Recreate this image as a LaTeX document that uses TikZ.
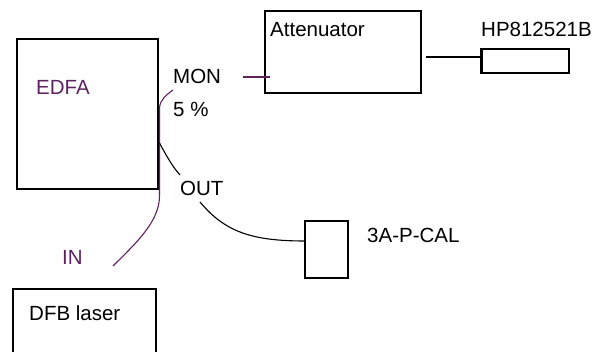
\documentclass[tikz,border=0pt]{standalone}
\usepackage{fontspec}
\setmainfont{Liberation Sans}
\definecolor{fiberpurple}{RGB}{96,34,96}
\begin{document}
\begin{tikzpicture}[x=1pt,y=-1pt,
  box/.style={draw=black,line width=1.2pt,minimum width=#1,inner sep=0pt},
  lbl/.style={anchor=west,inner sep=0pt,font=\fontsize{20.5}{24}\selectfont},
  fiber/.style={line width=1.1pt}]
\useasboundingbox (0,0) rectangle (595,352);
\clip (0,0) rectangle (595,352);
\fill[white] (0,0) rectangle (595,352);
% boxes
\node[box=141pt,minimum height=150pt] (edfa) at (87.5,114) {};
\node[box=156pt,minimum height=82pt] (att) at (343,52) {};
\node[box=87pt,minimum height=24pt] (hp) at (525.5,61) {};
\node[box=43pt,minimum height=57pt] (cal) at (326.5,249.5) {};
\node[box=143pt,minimum height=80pt] (dfb) at (84.5,329) {};
\draw[line width=2.2pt] (hp.north west) -- (hp.south west);
% labels
\node[lbl,text=fiberpurple] (tedfa) at (36,87) {EDFA};
\node[lbl] (tatt) at (270,30) {Attenuator};
\node[lbl] (thp) at (481,29) {HP812521B};
\node[lbl] (tmon) at (173,76) {MON};
\node[lbl] (tpct) at (173,109) {5 \%};
\node[lbl] (tout) at (180,188) {OUT};
\node[lbl,text=fiberpurple] (tin) at (62,257) {IN};
\node[lbl] (tcal) at (367,235) {3A-P-CAL};
\node[lbl] (tdfb) at (29,313) {DFB laser};
% fiber coordinates
\coordinate (inend) at (113,266);
\coordinate (edgebot) at (159.5,196);
\coordinate (edgetop) at (159.5,108);
\coordinate (monend) at (173,90);
\coordinate (tapout) at (159.5,143);
\coordinate (outend) at (180,175);
\coordinate (outstart) at (200,202);
\coordinate (calin) at (305,241);
\coordinate (monstart) at (243,77);
\coordinate (attin) at (270,77);
\coordinate (attout) at (426,57);
\coordinate (hpin) at (482,57);
% connectors
\draw[fiber,fiberpurple] (inend) .. controls (135,244) and (159.5,222) .. (edgebot) -- (edgetop)
  .. controls (160,100) and (166,95) .. (monend);
\draw[fiber] (tapout) .. controls (166,155) and (172,166) .. (outend);
\draw[fiber] (outstart) .. controls (225,232) and (252,241) .. (calin);
\draw[fiber,fiberpurple] (monstart) -- (attin);
\draw[fiber] (attout) -- (hpin);
\end{tikzpicture}
\end{document}
